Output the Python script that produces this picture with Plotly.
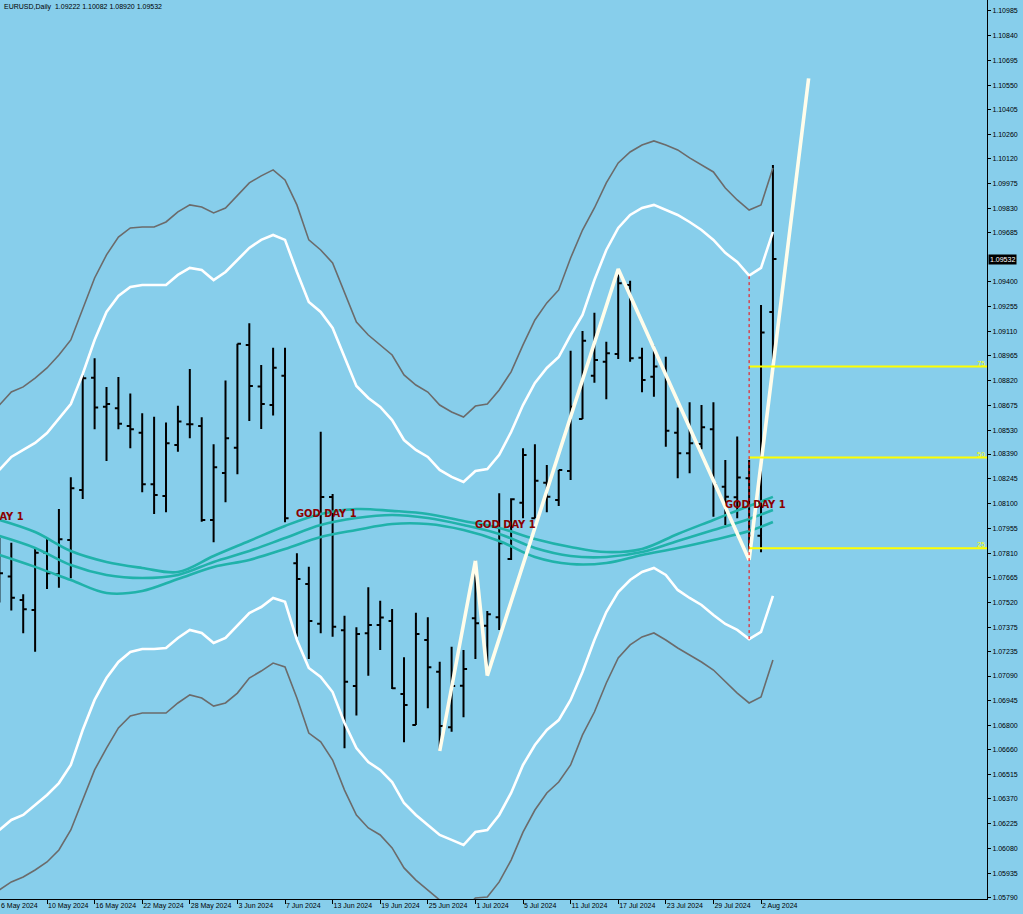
import plotly.graph_objects as go
from datetime import datetime

# ---------------- data ----------------
dates = [
    "2024-05-06", "2024-05-07", "2024-05-08", "2024-05-09", "2024-05-10",
    "2024-05-13", "2024-05-14", "2024-05-15", "2024-05-16", "2024-05-17",
    "2024-05-20", "2024-05-21", "2024-05-22", "2024-05-23", "2024-05-24",
    "2024-05-27", "2024-05-28", "2024-05-29", "2024-05-30", "2024-05-31",
    "2024-06-03", "2024-06-04", "2024-06-05", "2024-06-06", "2024-06-07",
    "2024-06-10", "2024-06-11", "2024-06-12", "2024-06-13", "2024-06-14",
    "2024-06-17", "2024-06-18", "2024-06-19", "2024-06-20", "2024-06-21",
    "2024-06-24", "2024-06-25", "2024-06-26", "2024-06-27", "2024-06-28",
    "2024-07-01", "2024-07-02", "2024-07-03", "2024-07-04", "2024-07-05",
    "2024-07-08", "2024-07-09", "2024-07-10", "2024-07-11", "2024-07-12",
    "2024-07-15", "2024-07-16", "2024-07-17", "2024-07-18", "2024-07-19",
    "2024-07-22", "2024-07-23", "2024-07-24", "2024-07-25", "2024-07-26",
    "2024-07-29", "2024-07-30", "2024-07-31", "2024-08-01", "2024-08-02",
    "2024-08-05",
]

opens = [
    1.07600, 1.07672, 1.07535, 1.07477, 1.07812, 1.07686, 1.07887, 1.08180, 1.08837, 1.08667,
    1.08658, 1.08554, 1.08515, 1.08213, 1.08144, 1.08443, 1.08564, 1.08554, 1.08004, 1.08279,
    1.08427, 1.09029, 1.08785, 1.08677, 1.08849, 1.07750, 1.07629, 1.07396, 1.08139, 1.07358,
    1.07032, 1.07340, 1.07389, 1.07412, 1.06985, 1.06803, 1.07301, 1.07115, 1.06790, 1.07033,
    1.07428, 1.07385, 1.07434, 1.07775, 1.08105, 1.08014, 1.08222, 1.08121, 1.08291, 1.08595,
    1.08849, 1.08931, 1.08976, 1.09380, 1.08954, 1.08843, 1.08882, 1.08515, 1.08395, 1.08449,
    1.08535, 1.08199, 1.08137, 1.08248, 1.07912, 1.09222,
]
highs = [
    1.07900, 1.07871, 1.07569, 1.07838, 1.07897, 1.08068, 1.08254, 1.08853, 1.08951, 1.08783,
    1.08841, 1.08744, 1.08629, 1.08609, 1.08574, 1.08672, 1.08888, 1.08605, 1.08447, 1.08820,
    1.09036, 1.09156, 1.08912, 1.09013, 1.09013, 1.07809, 1.07730, 1.08521, 1.08156, 1.07443,
    1.07375, 1.07610, 1.07531, 1.07483, 1.07200, 1.07461, 1.07434, 1.07174, 1.07262, 1.07242,
    1.07765, 1.07471, 1.08160, 1.08131, 1.08424, 1.08447, 1.08326, 1.08297, 1.08995, 1.09111,
    1.09218, 1.09048, 1.09474, 1.09405, 1.09013, 1.09025, 1.08960, 1.08662, 1.08693, 1.08677,
    1.08693, 1.08355, 1.08492, 1.08355, 1.09263, 1.10082,
]
lows = [
    1.07520, 1.07473, 1.07340, 1.07232, 1.07600, 1.07607, 1.07662, 1.08127, 1.08535, 1.08349,
    1.08535, 1.08424, 1.08166, 1.08039, 1.08049, 1.08404, 1.08482, 1.07994, 1.07873, 1.08107,
    1.08271, 1.08584, 1.08537, 1.08615, 1.07990, 1.07320, 1.07190, 1.07340, 1.07320, 1.06667,
    1.06858, 1.07092, 1.07242, 1.07014, 1.06702, 1.06803, 1.06901, 1.06651, 1.06764, 1.06848,
    1.07190, 1.07092, 1.07360, 1.07770, 1.08014, 1.08014, 1.08049, 1.08086, 1.08238, 1.08595,
    1.08808, 1.08711, 1.08947, 1.08931, 1.08752, 1.08726, 1.08433, 1.08248, 1.08277, 1.08418,
    1.08023, 1.07975, 1.08014, 1.07770, 1.07815, 1.08920,
]
closes = [
    1.07692, 1.07549, 1.07481, 1.07812, 1.07692, 1.07891, 1.08190, 1.08834, 1.08662, 1.08683,
    1.08568, 1.08535, 1.08213, 1.08150, 1.08453, 1.08580, 1.08564, 1.08004, 1.08312, 1.08482,
    1.09036, 1.08789, 1.08683, 1.08896, 1.08014, 1.07658, 1.07412, 1.08139, 1.07379, 1.07057,
    1.07336, 1.07389, 1.07432, 1.07018, 1.06920, 1.07336, 1.07141, 1.06797, 1.07032, 1.07131,
    1.07399, 1.07451, 1.07867, 1.08125, 1.08385, 1.08234, 1.08140, 1.08297, 1.08667, 1.09054,
    1.08941, 1.08980, 1.09390, 1.08951, 1.08824, 1.08902, 1.08527, 1.08395, 1.08453, 1.08547,
    1.08213, 1.08140, 1.08252, 1.07912, 1.09101, 1.09532,
]

# envelope bands (outer grey / inner white)
upper_outer = [
    1.08677, 1.08753, 1.08783, 1.08835, 1.08894, 1.08970, 1.09058, 1.09234, 1.09421, 1.09556,
    1.09661, 1.09714, 1.09720, 1.09720, 1.09749, 1.09808, 1.09849, 1.09837, 1.09802, 1.09831,
    1.09907, 1.09978, 1.10019, 1.10054, 1.09995, 1.09849, 1.09644, 1.09585, 1.09509, 1.09339,
    1.09163, 1.09087, 1.09029, 1.08970, 1.08853, 1.08794, 1.08753, 1.08677, 1.08636, 1.08607,
    1.08671, 1.08683, 1.08765, 1.08871, 1.09029, 1.09175, 1.09275, 1.09351, 1.09538, 1.09702,
    1.09831, 1.09978, 1.10095, 1.10159, 1.10200, 1.10224, 1.10200, 1.10171, 1.10124, 1.10083,
    1.10042, 1.09948, 1.09878, 1.09819, 1.09849, 1.10065,
]
upper_inner = [
    1.08297, 1.08373, 1.08414, 1.08455, 1.08513, 1.08601, 1.08683, 1.08859, 1.09058, 1.09222,
    1.09316, 1.09368, 1.09380, 1.09380, 1.09380, 1.09439, 1.09480, 1.09468, 1.09409, 1.09456,
    1.09527, 1.09597, 1.09644, 1.09673, 1.09644, 1.09456, 1.09281, 1.09222, 1.09128, 1.08953,
    1.08789, 1.08718, 1.08666, 1.08589, 1.08472, 1.08414, 1.08373, 1.08297, 1.08256, 1.08226,
    1.08291, 1.08302, 1.08385, 1.08519, 1.08677, 1.08806, 1.08894, 1.08958, 1.09087, 1.09204,
    1.09409, 1.09585, 1.09714, 1.09790, 1.09831, 1.09849, 1.09819, 1.09790, 1.09749, 1.09702,
    1.09644, 1.09568, 1.09515, 1.09435, 1.09480, 1.09691,
]
lower_inner = [
    1.06188, 1.06247, 1.06276, 1.06335, 1.06393, 1.06463, 1.06569, 1.06774, 1.06950, 1.07078,
    1.07172, 1.07231, 1.07248, 1.07248, 1.07254, 1.07313, 1.07360, 1.07342, 1.07283, 1.07313,
    1.07389, 1.07459, 1.07494, 1.07547, 1.07524, 1.07301, 1.07137, 1.07084, 1.06996, 1.06815,
    1.06668, 1.06586, 1.06540, 1.06469, 1.06346, 1.06276, 1.06217, 1.06159, 1.06130, 1.06100,
    1.06176, 1.06188, 1.06276, 1.06405, 1.06569, 1.06686, 1.06774, 1.06832, 1.06950, 1.07114,
    1.07301, 1.07465, 1.07582, 1.07652, 1.07699, 1.07723, 1.07682, 1.07594, 1.07547, 1.07506,
    1.07447, 1.07395, 1.07360, 1.07306, 1.07348, 1.07559,
]
lower_outer = [
    1.05837, 1.05884, 1.05913, 1.05954, 1.06001, 1.06071, 1.06188, 1.06364, 1.06540, 1.06668,
    1.06786, 1.06856, 1.06873, 1.06873, 1.06873, 1.06932, 1.06979, 1.06961, 1.06914, 1.06932,
    1.06990, 1.07078, 1.07119, 1.07166, 1.07143, 1.06961, 1.06756, 1.06704, 1.06598, 1.06422,
    1.06276, 1.06200, 1.06159, 1.06083, 1.05966, 1.05895, 1.05837, 1.05778, 1.05749, 1.05720,
    1.05790, 1.05796, 1.05884, 1.06012, 1.06176, 1.06305, 1.06405, 1.06469, 1.06569, 1.06745,
    1.06879, 1.07049, 1.07196, 1.07272, 1.07319, 1.07342, 1.07301, 1.07254, 1.07213, 1.07172,
    1.07125, 1.07055, 1.06990, 1.06932, 1.06967, 1.07184,
]

# three teal moving averages (sampled at bar indices)
ma_idx = [0, 3, 6, 9, 12, 15, 18, 21, 24, 27, 30, 33, 36, 39, 42, 45, 48, 51, 54, 57, 60, 63, 65]
ma_a = [1.08004, 1.07933, 1.07822, 1.07758, 1.07723, 1.07699, 1.07793, 1.07881, 1.07969, 1.08039,
        1.08068, 1.08057, 1.08039, 1.07998, 1.07957, 1.07893, 1.07846, 1.07816, 1.07834, 1.07922,
        1.08004, 1.08086, 1.08139]
ma_b = [1.07910, 1.07840, 1.07740, 1.07682, 1.07664, 1.07682, 1.07758, 1.07822, 1.07898, 1.07974,
        1.08015, 1.08033, 1.08015, 1.07974, 1.07922, 1.07840, 1.07793, 1.07787, 1.07816, 1.07881,
        1.07945, 1.08010, 1.08062]
ma_c = [1.07799, 1.07729, 1.07652, 1.07576, 1.07588, 1.07658, 1.07729, 1.07770, 1.07834, 1.07904,
        1.07945, 1.07980, 1.07980, 1.07945, 1.07881, 1.07787, 1.07746, 1.07752, 1.07799, 1.07840,
        1.07887, 1.07939, 1.07992]

# zigzag (last point is a projection into future bars)
zz_idx = [37, 40, 41, 52, 63, 68]
zz_val = [1.06651, 1.07765, 1.07092, 1.09474, 1.07770, 1.10590]

# fibo levels drawn from the 1 Aug bar
fib_start = 63
fib_levels = [1.07838, 1.08369, 1.08902]
fib_labels = ["25", "50", "75"]

# "GOD DAY 1" text objects
god_text = "GOD DAY 1"
god_idx = [-3, 25, 40, 61]
god_val = [1.08027, 1.08043, 1.07980, 1.08092]

ytick_vals = [1.10985, 1.10840, 1.10695, 1.10550, 1.10405, 1.10260, 1.10120, 1.09975, 1.09830,
              1.09685, 1.09400, 1.09255, 1.09110, 1.08965, 1.08820, 1.08675, 1.08530, 1.08390,
              1.08245, 1.08100, 1.07955, 1.07810, 1.07665, 1.07520, 1.07375, 1.07235, 1.07090,
              1.06945, 1.06800, 1.06660, 1.06515, 1.06370, 1.06225, 1.06080, 1.05935, 1.05790]
xtick_step = 4

# ---------------- figure ----------------
BG = "#87CEEB"
FONT = "Liberation Sans, Arial, sans-serif"
x_range = [0.05, 82.99]
y_range = [1.05784, 1.11049]

idx = list(range(len(dates)))


def fmt_date(s):
    d = datetime.strptime(s, "%Y-%m-%d")
    return f"{d.day} {d.strftime('%b')} {d.year}"


tick_pos = [i for i in idx if i % xtick_step == 0 and i > 0]
tick_txt = [fmt_date(dates[i]) for i in tick_pos]

fig = go.Figure()

fig.add_trace(go.Ohlc(
    x=idx, open=opens, high=highs, low=lows, close=closes,
    increasing=dict(line=dict(color="black", width=2)),
    decreasing=dict(line=dict(color="black", width=2)),
    tickwidth=0.3, hoverinfo="skip", showlegend=False,
))

for band, col, w in [(upper_outer, "#6b6b6b", 1.6), (lower_outer, "#6b6b6b", 1.6),
                     (upper_inner, "#ffffff", 2.6), (lower_inner, "#ffffff", 2.6)]:
    fig.add_trace(go.Scatter(x=idx, y=band, mode="lines",
                             line=dict(color=col, width=w), hoverinfo="skip", showlegend=False))

for ma in (ma_a, ma_b, ma_c):
    fig.add_trace(go.Scatter(x=ma_idx, y=ma, mode="lines",
                             line=dict(color="#20B2AA", width=2.6, shape="spline", smoothing=1.0),
                             hoverinfo="skip", showlegend=False))

fig.add_trace(go.Scatter(x=zz_idx, y=zz_val, mode="lines",
                         line=dict(color="#FFFDEB", width=3.6), hoverinfo="skip", showlegend=False))

for lev in fib_levels:
    fig.add_trace(go.Scatter(x=[fib_start, x_range[1] + 5], y=[lev, lev], mode="lines",
                             line=dict(color="#FFFF00", width=2), hoverinfo="skip", showlegend=False))

fig.add_trace(go.Scatter(x=[fib_start, fib_start], y=[lower_inner[fib_start], upper_inner[fib_start]],
                         mode="lines", line=dict(color="#FF0000", width=1, dash="dot"),
                         hoverinfo="skip", showlegend=False))

annotations = []
span = x_range[1] - x_range[0]
for gi, gv in zip(god_idx, god_val):
    annotations.append(dict(
        x=(gi - x_range[0]) / span, xref="paper", y=gv, yref="y",
        text=f"<b>{god_text}</b>", showarrow=False, xanchor="left", yanchor="middle",
        xshift=-2.5,
        font=dict(family="Liberation Sans Narrow, DejaVu Sans Condensed, Arial Narrow, Liberation Sans, sans-serif",
                  size=11, color="#8B0000"),
    ))

for lev, lab in zip(fib_levels, fib_labels):
    annotations.append(dict(
        x=1, xref="paper", y=lev, yref="y", text=lab, showarrow=False,
        xanchor="right", yanchor="bottom", yshift=-2,
        font=dict(family=FONT, size=7, color="#FFFF00"),
    ))

# current price box
annotations.append(dict(
    x=1, xref="paper", y=closes[-1], yref="y", text=f"{closes[-1]:.5f}", showarrow=False,
    xanchor="left", yanchor="middle", xshift=1, bgcolor="black", borderpad=1,
    font=dict(family=FONT, size=7, color="white"),
))

# header
annotations.append(dict(
    x=0, xref="paper", y=1, yref="paper", showarrow=False, xanchor="left", yanchor="top",
    xshift=2, yshift=-1,
    text=f"EURUSD,Daily\u00a0\u00a0{opens[-1]:.5f} {highs[-1]:.5f} {lows[-1]:.5f} {closes[-1]:.5f}",
    font=dict(family=FONT, size=7, color="black"),
))

# first (partially hidden) date label
annotations.append(dict(
    x=(idx[0] - x_range[0]) / span, xref="paper", y=0, yref="paper", yanchor="top", xanchor="left",
    yshift=-1, showarrow=False, text=fmt_date(dates[0]),
    font=dict(family=FONT, size=7, color="black"),
))

fig.update_layout(
    width=1023, height=914,
    margin=dict(l=0, r=36, t=0, b=15, pad=0),
    paper_bgcolor=BG, plot_bgcolor=BG,
    showlegend=False,
    font=dict(family=FONT, size=7, color="black"),
    annotations=annotations,
    xaxis=dict(range=x_range, tickvals=tick_pos, ticktext=tick_txt, ticks="outside", ticklen=4,
               tickcolor="black", ticklabelposition="outside right", tickangle=0, showline=True,
               linecolor="black", linewidth=1, showgrid=False, zeroline=False,
               rangeslider=dict(visible=False), tickfont=dict(size=7, color="black")),
    yaxis=dict(side="right", range=y_range, tickvals=ytick_vals, tickformat=".5f",
               ticks="outside", ticklen=3, tickcolor="black", showline=True, linecolor="black",
               linewidth=1, showgrid=False, zeroline=False, tickfont=dict(size=7, color="black")),
)

fig.write_html(
    "out.html",
    config={"displayModeBar": False},
    post_script="document.body.style.margin='0';document.body.style.padding='0';"
                "document.body.style.background='" + BG + "';",
)
